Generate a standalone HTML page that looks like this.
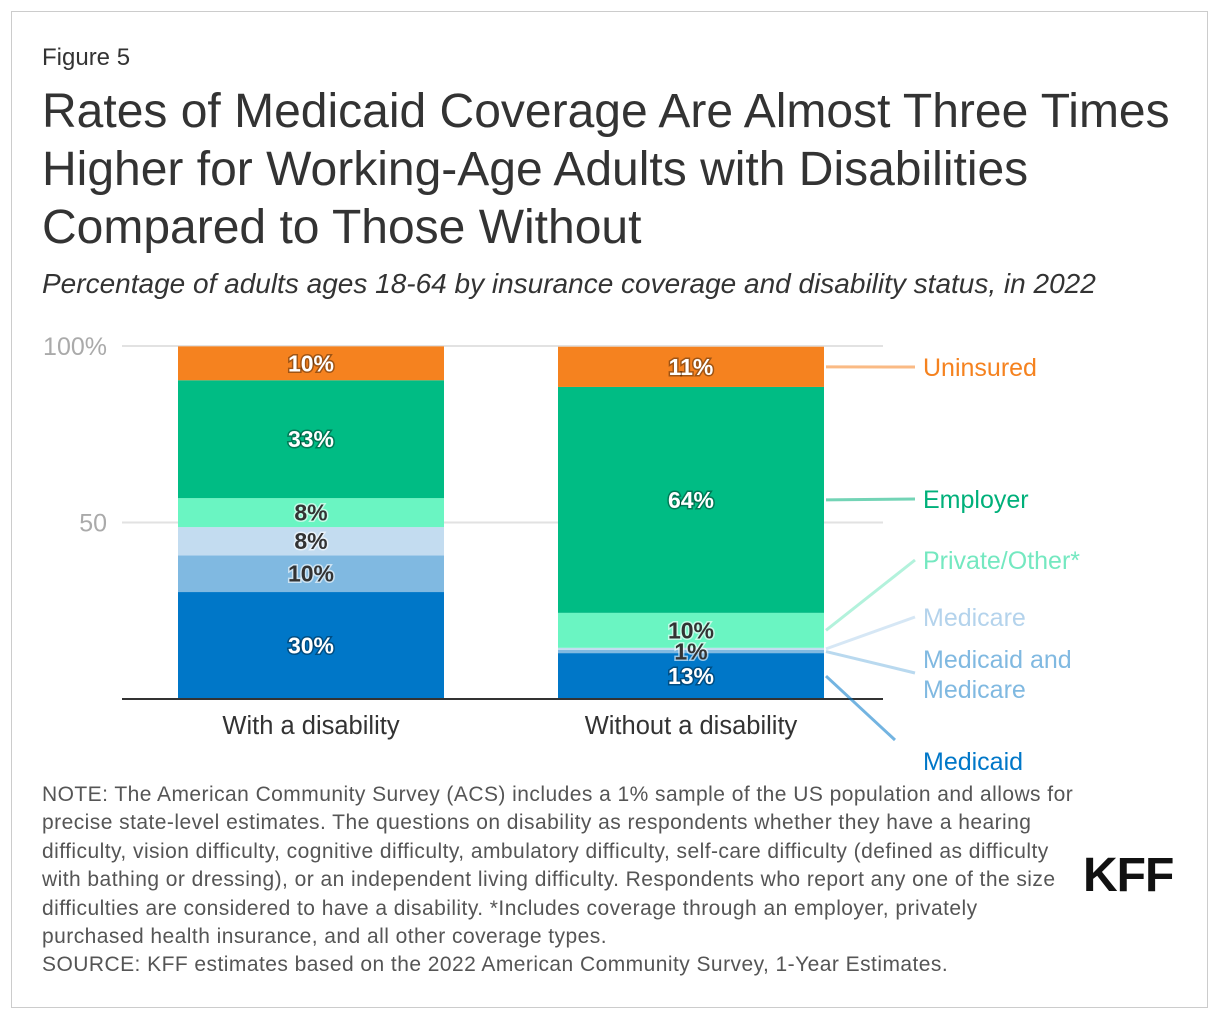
<!DOCTYPE html>
<html><head><meta charset="utf-8"><style>
body{margin:0;background:#fff;font-family:"Liberation Sans",Arial,sans-serif;}
.frame{position:absolute;left:11px;top:11px;width:1197px;height:997px;border:1px solid #ccc;box-sizing:border-box;}
.t{position:absolute;color:#333;white-space:nowrap;}
</style></head><body>
<div class="frame"></div>
<div class="t" style="left:42px;top:44px;font-size:24px;">Figure 5</div>
<div class="t" style="left:42px;top:83px;font-size:48px;line-height:58px;">Rates of Medicaid Coverage Are Almost Three Times<br>Higher for Working-Age Adults with Disabilities<br>Compared to Those Without</div>
<div class="t" style="left:42px;top:268px;font-size:28px;font-style:italic;">Percentage of adults ages 18-64 by insurance coverage and disability status, in 2022</div>
<svg id="chart" style="position:absolute;left:0;top:0" width="1220" height="780"></svg>
<div class="t" style="left:42px;top:781px;font-size:21px;line-height:28.4px;color:#555;letter-spacing:0.45px;">NOTE: The American Community Survey (ACS) includes a 1% sample of the US population and allows for<br>precise state-level estimates. The questions on disability as respondents whether they have a hearing<br>difficulty, vision difficulty, cognitive difficulty, ambulatory difficulty, self-care difficulty (defined as difficulty<br>with bathing or dressing), or an independent living difficulty. Respondents who report any one of the size<br>difficulties are considered to have a disability. *Includes coverage through an employer, privately<br>purchased health insurance, and all other coverage types.<br>SOURCE: KFF estimates based on the 2022 American Community Survey, 1-Year Estimates.</div>
<div class="t" style="left:1083px;top:848px;font-size:48px;font-weight:bold;color:#111;letter-spacing:-1px;">KFF</div>
<script>
const categories=["With a disability","Without a disability"];
const seriesNames=["Medicaid","Medicaid and Medicare","Medicare","Private/Other*","Employer","Uninsured"];
const medicaid=[30.3,13.0];
const medicaidMedicare=[10.4,0.9];
const medicare=[8.0,0.6];
const privateOther=[8.2,9.9];
const employer=[33.4,64.0];
const uninsured=[9.6,11.4];
const yTicks=[50,100];
const series=[medicaid,medicaidMedicare,medicare,privateOther,employer,uninsured];
const colors=["#0077c8","#80b9e1","#c3dcf0","#6af5c2","#00bc84","#f5821f"];
const labelColors=["#0077c8","#80b9e1","#b4d3ec","#74e8c0","#00b07a","#f5821f"];
const darkText=[false,true,true,true,false,false];
const svg=document.getElementById('chart');const NS="http://www.w3.org/2000/svg";
const y0=699,y100=346;
const y=v=>y0-(y0-y100)*v/100;
const barX=i=>178+i*380, barW=266;
function mk(t,a){const e=document.createElementNS(NS,t);for(const k in a)e.setAttribute(k,a[k]);svg.appendChild(e);return e;}
yTicks.forEach(t=>{
 const g=mk('line',{x1:122,x2:883,y1:y(t),y2:y(t),stroke:'#e2e2e2','stroke-width':2});
 
 
 const l=mk('text',{x:107,y:y(t)+9,'text-anchor':'end','font-size':25,fill:'#aaa'});
 l.textContent=t===100?'100%':String(t);
 
 
});
const labels=[];
categories.forEach((c,i)=>{
 let cum=0;
 series.forEach((s,j)=>{
  const v=s[i];
  const r=mk('rect',{x:barX(i),y:y(cum+v),width:barW,height:y(cum)-y(cum+v),fill:colors[j]});
  
  
  if(v>=0.8)labels.push({x:barX(i)+barW/2,y:y(cum+v/2)+8,t:Math.round(v)+'%',d:darkText[j]});
  cum+=v;
 });
 const cl=mk('text',{x:barX(i)+barW/2,y:734,'text-anchor':'middle','font-size':25.5,fill:'#333'});
 cl.textContent=c;
 
 
});
labels.forEach(L=>{
 const e=mk('text',{x:L.x,y:L.y,'text-anchor':'middle','font-size':23,'font-weight':'bold',fill:L.d?'#333':'#fff',stroke:L.d?'rgba(255,255,255,0.6)':'rgba(0,0,0,0.35)','stroke-width':3,'paint-order':'stroke'});
 e.textContent=L.t;
 
 
});
const ax=mk('line',{x1:122,x2:883,y1:y0,y2:y0,stroke:'#333','stroke-width':2});


const legendY=[775,673,617,560,499,367];
const legendLines=[["Medicaid"],["Medicaid and","Medicare"],["Medicare"],["Private/Other*"],["Employer"],["Uninsured"]];
let cum=0;
series.forEach((s,j)=>{
 const v=s[1];const my=y(cum+v/2);cum+=v;
 const ly=legendY[j];
 const ex=j===0?895:915, ey=j===0?740:ly;
 const ln=mk('path',{d:`M${barX(1)+barW+2},${my} L${ex},${ey}`,stroke:labelColors[j],'stroke-width':3,fill:'none',opacity:0.55});
 
 
 legendLines[j].forEach((tx,k)=>{
  const ty=j===1?668+k*30:(j===0?770:ly+9);
  const t=mk('text',{x:923,y:ty,'font-size':25,fill:labelColors[j]});
  t.textContent=tx;
  
  
 });
});
</script>
</body></html>
